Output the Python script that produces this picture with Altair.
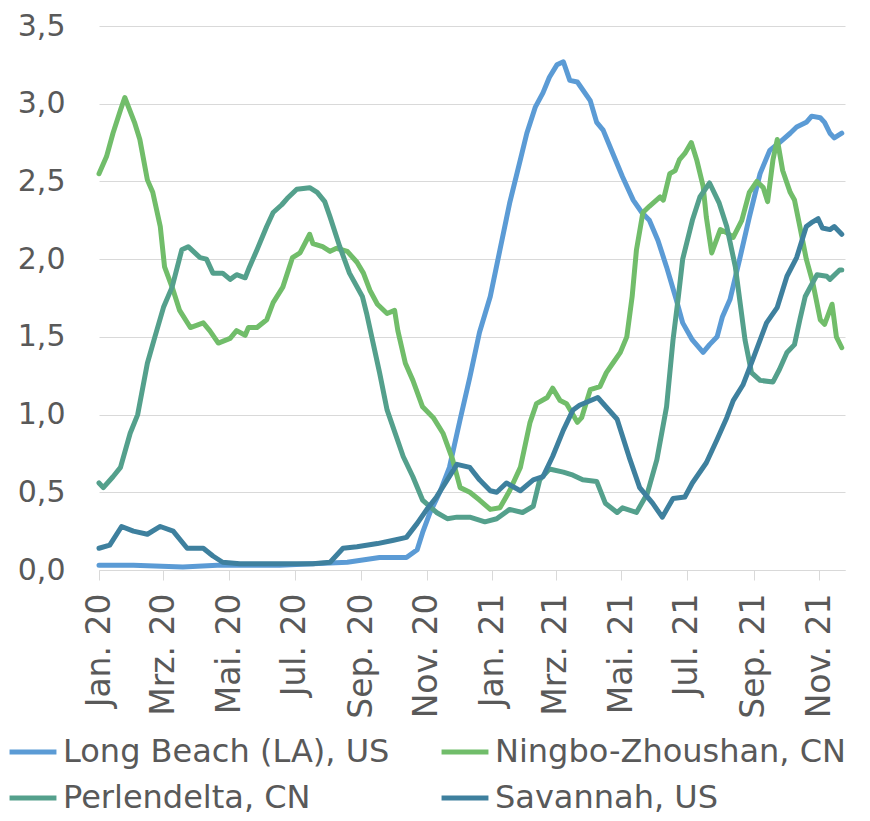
import altair as alt
import pandas as pd

series_names = ["Long Beach (LA), US", "Ningbo-Zhoushan, CN", "Perlendelta, CN", "Savannah, US"]
series_colors = ["#5B9BD5", "#71BD6A", "#54A08C", "#3E809E"]
# legend fills column by column: order entries so rows read as in the original
legend_order = [0, 2, 1, 3]

month_labels = ["Jan.", "Feb.", "Mrz.", "Apr.", "Mai.", "Jun.", "Jul.", "Aug.", "Sep.", "Okt.", "Nov.", "Dez."]
tick_months = [(2020, 1), (2020, 3), (2020, 5), (2020, 7), (2020, 9), (2020, 11),
               (2021, 1), (2021, 3), (2021, 5), (2021, 7), (2021, 9), (2021, 11)]
y_ticks = [0, 0.5, 1.0, 1.5, 2.0, 2.5, 3.0, 3.5]

# days since 2020-01-01 and values
long_beach_day = [0, 32, 78, 110, 140, 168, 199, 231, 261, 286, 296, 301, 308, 317, 326, 336, 345, 354, 364,
                  373, 382, 392, 398, 406, 413, 419, 426, 432, 438, 445, 450, 457, 463, 469, 478, 487, 497,
                  505, 512, 520, 528, 537, 543, 552, 562, 568, 575, 580, 587, 596, 605, 615, 624, 633, 643,
                  649, 658, 663, 671, 675, 680, 684, 691]
long_beach_val = [0.03, 0.03, 0.02, 0.03, 0.03, 0.03, 0.04, 0.05, 0.08, 0.08, 0.13, 0.24, 0.37, 0.50, 0.66,
                  0.97, 1.24, 1.53, 1.76, 2.06, 2.36, 2.64, 2.81, 2.98, 3.07, 3.17, 3.25, 3.27, 3.15, 3.14,
                  3.09, 3.02, 2.88, 2.83, 2.68, 2.53, 2.38, 2.30, 2.25, 2.12, 1.95, 1.74, 1.59, 1.48, 1.40,
                  1.45, 1.50, 1.63, 1.74, 2.00, 2.27, 2.55, 2.70, 2.75, 2.81, 2.85, 2.88, 2.92, 2.91, 2.88,
                  2.81, 2.78, 2.81]

ningbo_day = [0, 7, 13, 20, 24, 33, 38, 45, 50, 57, 61, 69, 75, 85, 97, 103, 111, 122, 128, 136, 139, 147,
              156, 162, 171, 180, 187, 196, 199, 208, 215, 221, 231, 240, 246, 252, 259, 268, 275, 278, 285,
              292, 301, 311, 320, 329, 336, 345, 354, 364, 373, 382, 392, 401, 407, 417, 422, 429, 435, 445,
              449, 457, 466, 472, 478, 485, 491, 496, 500, 506, 512, 522, 525, 531, 536, 540, 545, 551, 556,
              562, 565, 570, 578, 584, 590, 598, 605, 612, 618, 622, 627, 631, 636, 643, 647, 652, 658, 664,
              671, 675, 682, 686, 691]
ningbo_val = [2.55, 2.66, 2.81, 2.96, 3.04, 2.88, 2.77, 2.51, 2.43, 2.21, 1.95, 1.80, 1.67, 1.56, 1.59, 1.54,
              1.46, 1.49, 1.54, 1.51, 1.56, 1.56, 1.61, 1.72, 1.82, 2.01, 2.04, 2.16, 2.10, 2.08, 2.05, 2.07,
              2.05, 1.98, 1.91, 1.80, 1.71, 1.65, 1.67, 1.54, 1.33, 1.22, 1.05, 0.98, 0.88, 0.71, 0.53, 0.50,
              0.45, 0.39, 0.40, 0.51, 0.66, 0.95, 1.07, 1.11, 1.17, 1.09, 1.07, 0.95, 0.98, 1.16, 1.18, 1.27,
              1.33, 1.40, 1.50, 1.76, 2.06, 2.30, 2.34, 2.40, 2.38, 2.55, 2.57, 2.64, 2.68, 2.75, 2.64, 2.47,
              2.27, 2.04, 2.19, 2.17, 2.14, 2.25, 2.43, 2.50, 2.46, 2.37, 2.64, 2.77, 2.57, 2.43, 2.38, 2.21,
              2.00, 1.85, 1.61, 1.58, 1.71, 1.50, 1.43]

perlendelta_day = [0, 4, 13, 20, 29, 36, 45, 52, 60, 68, 77, 83, 94, 100, 106, 115, 122, 128, 136, 140, 147,
                   156, 162, 170, 175, 184, 196, 203, 210, 215, 224, 233, 245, 249, 261, 268, 283, 292, 301,
                   314, 324, 333, 345, 359, 370, 382, 394, 404, 410, 419, 432, 441, 450, 463, 471, 482, 487,
                   500, 510, 519, 528, 534, 539, 543, 552, 559, 568, 577, 584, 592, 601, 607, 615, 627, 633,
                   640, 647, 652, 657, 664, 668, 677, 680, 689, 691]
perlendelta_val = [0.56, 0.53, 0.60, 0.66, 0.88, 1.00, 1.33, 1.50, 1.69, 1.82, 2.06, 2.08, 2.01, 2.00, 1.91,
                   1.91, 1.87, 1.90, 1.88, 1.95, 2.06, 2.21, 2.30, 2.35, 2.39, 2.45, 2.46, 2.43, 2.37, 2.27,
                   2.08, 1.91, 1.76, 1.65, 1.27, 1.03, 0.73, 0.60, 0.45, 0.37, 0.33, 0.34, 0.34, 0.31, 0.33,
                   0.39, 0.37, 0.41, 0.58, 0.65, 0.63, 0.61, 0.58, 0.57, 0.43, 0.37, 0.40, 0.37, 0.49, 0.71,
                   1.05, 1.48, 1.76, 2.00, 2.25, 2.40, 2.49, 2.36, 2.21, 1.95, 1.48, 1.27, 1.22, 1.21, 1.29,
                   1.40, 1.45, 1.61, 1.76, 1.85, 1.90, 1.89, 1.87, 1.93, 1.93]

savannah_day = [0, 10, 21, 32, 45, 57, 69, 82, 97, 106, 115, 131, 156, 175, 199, 215, 227, 240, 259, 273,
                286, 296, 305, 314, 324, 333, 345, 354, 364, 370, 379, 392, 404, 413, 422, 432, 441, 447,
                464, 482, 494, 503, 515, 524, 534, 545, 552, 565, 575, 584, 590, 599, 608, 621, 631, 640,
                649, 658, 664, 669, 673, 680, 684, 691]
savannah_val = [0.14, 0.16, 0.28, 0.25, 0.23, 0.28, 0.25, 0.14, 0.14, 0.09, 0.05, 0.04, 0.04, 0.04, 0.04,
                0.05, 0.14, 0.15, 0.17, 0.19, 0.21, 0.30, 0.39, 0.47, 0.58, 0.68, 0.66, 0.58, 0.51, 0.50,
                0.56, 0.51, 0.58, 0.60, 0.73, 0.90, 1.03, 1.06, 1.11, 0.97, 0.71, 0.53, 0.43, 0.34, 0.46,
                0.47, 0.56, 0.69, 0.84, 0.98, 1.09, 1.19, 1.35, 1.59, 1.69, 1.89, 2.01, 2.21, 2.24, 2.26,
                2.20, 2.19, 2.21, 2.16]

start = pd.Timestamp("2020-01-01")
rows = []
for name, days, vals in [
    (series_names[0], long_beach_day, long_beach_val),
    (series_names[1], ningbo_day, ningbo_val),
    (series_names[2], perlendelta_day, perlendelta_val),
    (series_names[3], savannah_day, savannah_val),
]:
    for d, v in zip(days, vals):
        rows.append({"Hafen": name, "Datum": start + pd.Timedelta(days=d), "Wert": v})
df = pd.DataFrame(rows)

tick_values = [alt.DateTime(year=y, month=m, date=1) for y, m in tick_months]
month_js = "[" + ",".join("'" + s + "'" for s in month_labels) + "]"
dom = [series_names[i] for i in legend_order]
rng = [series_colors[i] for i in legend_order]

FONT = "DejaVu Sans"
GREY = "#D9D9D9"
TXT = "#595959"

chart = alt.Chart(df).mark_line(strokeWidth=5, strokeCap="round", strokeJoin="round").encode(
    x=alt.X(
        "Datum:T",
        scale=alt.Scale(domain=[alt.DateTime(year=2020, month=1, date=1),
                                alt.DateTime(year=2021, month=11, date=25)], nice=False),
        axis=alt.Axis(
            values=tick_values,
            labelExpr=month_js + "[month(datum.value)] + ' ' + timeFormat(datum.value, '%y')",
            labelAngle=-90,
            labelFont=FONT, labelFontSize=33, labelColor=TXT,
            labelPadding=13, labelOverlap=False, labelFlush=False,
            tickColor=GREY, tickSize=10, tickWidth=1,
            domainColor=GREY, domainWidth=1,
            grid=False, title=None,
        ),
    ),
    y=alt.Y(
        "Wert:Q",
        scale=alt.Scale(domain=[0, 3.5], nice=False),
        axis=alt.Axis(
            values=y_ticks,
            labelExpr="replace(format(datum.value, '.1f'), '.', ',')",
            labelFont=FONT, labelFontSize=30, labelColor=TXT,
            labelPadding=34, ticks=False, tickSize=0, domain=False,
            grid=True, gridColor=GREY, gridWidth=1,
            title=None,
        ),
    ),
    color=alt.Color(
        "Hafen:N",
        scale=alt.Scale(domain=dom, range=rng),
        sort=dom,
        legend=alt.Legend(
            title=None, orient="none", legendX=-92, legendY=700,
            columns=2, columnPadding=41, rowPadding=4, padding=0,
            symbolType="stroke", symbolSize=2200, symbolStrokeWidth=5,
            labelFont=FONT, labelFontSize=32, labelColor=TXT, labelOffset=4,
            labelLimit=600,
        ),
    ),
).properties(
    width=746,
    height=544,
    padding={"left": 91, "top": 18, "right": 17, "bottom": 252},
    autosize=alt.AutoSizeParams(type="none"),
    background="white",
).configure_view(stroke=None)

chart.save("out.html", embed_options={"renderer": "svg", "actions": False})
